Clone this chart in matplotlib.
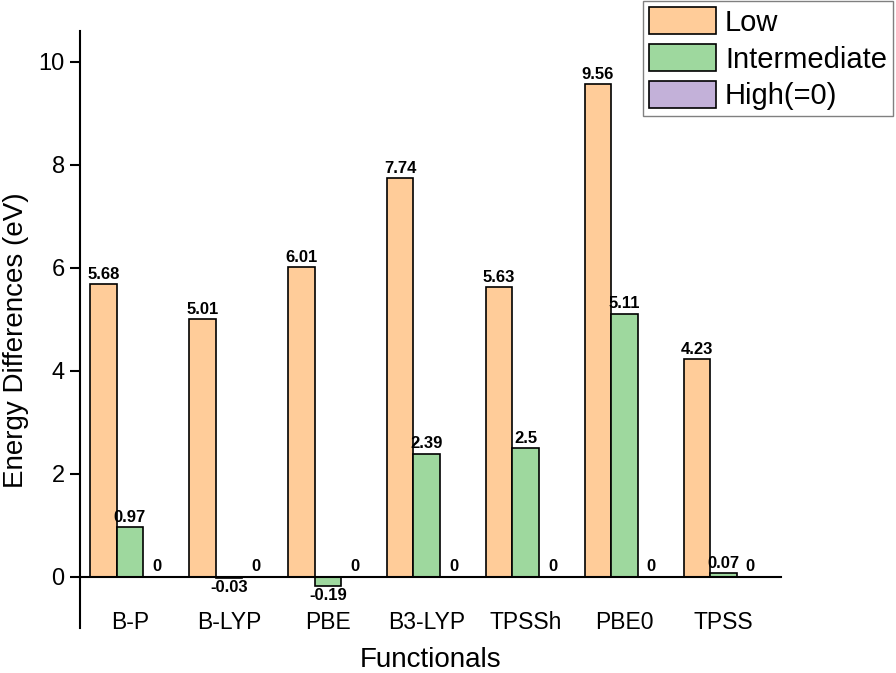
import numpy as np
import matplotlib.pyplot as plt

plt.rcParams['font.family'] = ['Liberation Sans', 'DejaVu Sans']

functionals = ['B-P', 'B-LYP', 'PBE', 'B3-LYP', 'TPSSh', 'PBE0', 'TPSS']
low = [5.68, 5.01, 6.01, 7.74, 5.63, 9.56, 4.23]
intermediate = [0.97, -0.03, -0.19, 2.39, 2.5, 5.11, 0.07]
high = [0, 0, 0, 0, 0, 0, 0]

x = np.arange(len(functionals))
w = 0.27

fig = plt.figure(figsize=(8.96, 6.73), dpi=100)
ax = fig.add_axes([0.0893, 0.0669, 0.7824, 0.8871])

b1 = ax.bar(x - w, low, w, color='#FFCC99', edgecolor='black', linewidth=1.2, label='Low')
b2 = ax.bar(x, intermediate, w, color='#9ED89E', edgecolor='black', linewidth=1.2, label='Intermediate')
b3 = ax.bar(x + w, high, w, color='#C3B1D9', edgecolor='black', linewidth=1.2, label='High(=0)')

for bars, vals in [(b1, low), (b2, intermediate), (b3, high)]:
    ax.bar_label(bars, labels=[f'{v:g}' for v in vals], padding=1.5,
                 fontsize=12, fontweight='bold')

ax.set_xlim(-0.505, 6.58)
ax.set_ylim(-1.0, 10.6)
ax.set_yticks([0, 2, 4, 6, 8, 10])
ax.tick_params(axis='y', labelsize=17, direction='out', length=7, width=1.5, pad=4)
ax.set_xticks(x)
ax.set_xticklabels(functionals)
ax.tick_params(axis='x', labelsize=16.5, length=0, pad=25)

ax.spines['top'].set_visible(False)
ax.spines['right'].set_visible(False)
ax.spines['bottom'].set_position(('data', 0))
ax.spines['left'].set_linewidth(1.5)
ax.spines['bottom'].set_linewidth(1.5)

ax.set_xlabel('Functionals', fontsize=20)
ax.xaxis.label.set_verticalalignment('baseline')
ax.xaxis.set_label_coords(0.5, -0.065)
ax.set_ylabel('Energy Differences (eV)', fontsize=20)
ax.yaxis.set_label_coords(-0.073, 0.482)

fig.legend(loc='upper right', bbox_to_anchor=(0.998, 1.0), fontsize=21,
           fancybox=False, edgecolor='gray', framealpha=1,
           handlelength=2.3, handleheight=1.05, handletextpad=0.3,
           labelspacing=0.25, borderpad=0.2, borderaxespad=0.05)

plt.savefig('out.png', dpi=100)
